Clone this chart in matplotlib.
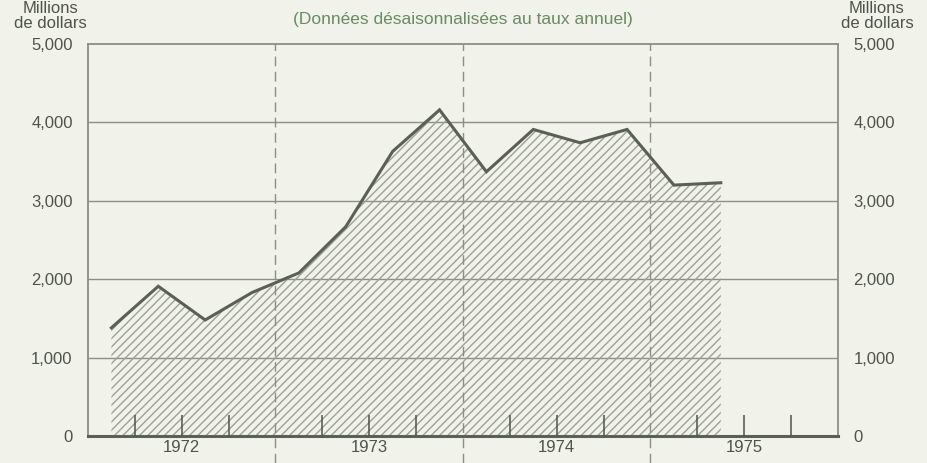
import numpy as np
import matplotlib.pyplot as plt

# quarterly values, 1972 Q1 .. 1975 Q2 (millions of dollars, annual rate)
quarters = ["1972T1", "1972T2", "1972T3", "1972T4",
            "1973T1", "1973T2", "1973T3", "1973T4",
            "1974T1", "1974T2", "1974T3", "1974T4",
            "1975T1", "1975T2"]
values = [1380, 1910, 1480, 1830, 2080, 2670, 3630, 4160,
          3370, 3910, 3740, 3910, 3200, 3230]
years = [1972, 1973, 1974, 1975]
yticks = [0, 1000, 2000, 3000, 4000, 5000]
ytick_labels = ["0", "1,000", "2,000", "3,000", "4,000", "5,000"]

bg = "#f1f2ea"
ink = "#4e5448"
grid_c = "#8b9083"

plt.rcParams['font.family'] = ['Liberation Sans', 'DejaVu Sans']

# quarter midpoints as fractional years
x = np.array([int(q[:4]) + (int(q[-1]) - 0.5) / 4 for q in quarters])

fig = plt.figure(figsize=(9.28, 4.63), dpi=100, facecolor=bg)
ax = fig.add_axes([0.0948, 0.0583, 0.8082, 0.8467], facecolor=bg)

ax.set_xlim(years[0], years[-1] + 1)
ax.set_ylim(0, 5000)

# horizontal grid
for v in yticks[1:-1]:
    ax.axhline(v, color=grid_c, lw=1.0, zorder=1)

# hatched area + line
ax.fill_between(x, values, 0, facecolor="none", edgecolor="#9da295",
                hatch="////", linewidth=0, zorder=2)
ax.plot(x, values, color="#5a6052", lw=2.2, zorder=4, solid_joinstyle="miter")

# year separators, dashed, running below the axis
for yr in years[1:]:
    ax.axvline(yr, ymin=-0.07, ymax=1, color=grid_c, lw=1.0,
               dashes=(7, 4), clip_on=False, zorder=3)

# quarter ticks inside the plot
qx = [yr + q / 4 for yr in years for q in (1, 2, 3)]
ax.vlines(qx, 0, 270, color=ink, lw=1.1, zorder=3)

for side in ["left", "right", "top"]:
    ax.spines[side].set_color(grid_c)
    ax.spines[side].set_linewidth(1.3)
ax.spines["bottom"].set_color("#5a6052")
ax.spines["bottom"].set_linewidth(2.2)

ax.set_yticks(yticks)
ax.set_yticklabels(ytick_labels)
ax.tick_params(axis="y", length=0, pad=11, labelsize=12, labelcolor=ink,
               left=True, right=True, labelleft=True, labelright=True)
ax.set_xticks([yr + 0.5 for yr in years])
ax.set_xticklabels([str(yr) for yr in years])
ax.tick_params(axis="x", length=0, pad=3, labelsize=12, labelcolor=ink)

fs = 12
fig.text(0.054, 0.950, "de dollars", ha="center", va="center", fontsize=fs, color=ink)
fig.text(0.054, 0.981, "Millions", ha="center", va="center", fontsize=fs, color=ink)
fig.text(0.945, 0.950, "de dollars", ha="center", va="center", fontsize=fs, color=ink)
fig.text(0.945, 0.981, "Millions", ha="center", va="center", fontsize=fs, color=ink)
fig.text(0.499, 0.958, "(Données désaisonnalisées au taux annuel)",
         ha="center", va="center", fontsize=12.5, color="#6b8a66")

fig.savefig("out.png", dpi=100, facecolor=bg)
